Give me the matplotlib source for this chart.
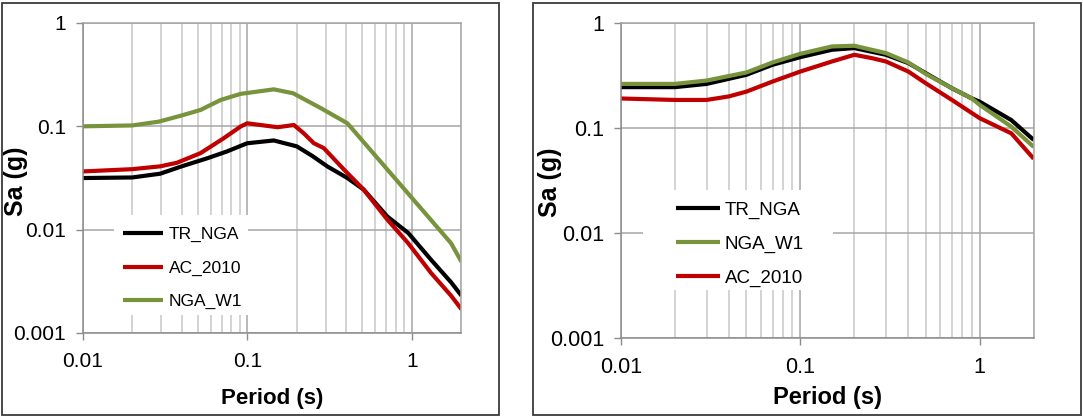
import matplotlib
matplotlib.use("Agg")
import matplotlib.pyplot as plt
from matplotlib.patches import Rectangle
from matplotlib.ticker import LogLocator, FixedLocator, NullFormatter

plt.rcParams['font.family'] = ['Liberation Sans', 'DejaVu Sans']

# ---------------- data: left panel ----------------
left_T_tr = [0.01, 0.02, 0.0296, 0.040, 0.057, 0.075, 0.1, 0.145, 0.2, 0.249, 0.307, 0.406, 0.51, 0.71, 0.95, 1.31, 1.73, 2.0]
left_tr = [0.0316, 0.032, 0.0348, 0.041, 0.049, 0.057, 0.0686, 0.073, 0.064, 0.0516, 0.0409, 0.0316, 0.0244, 0.0134, 0.0093, 0.0051, 0.0031, 0.0023]

left_T_ac = [0.01, 0.02, 0.0296, 0.0374, 0.052, 0.072, 0.091, 0.1, 0.153, 0.192, 0.22, 0.254, 0.292, 0.388, 0.51, 0.71, 0.95, 1.31, 1.73, 2.0]
left_ac = [0.0366, 0.0385, 0.041, 0.0444, 0.055, 0.0767, 0.0994, 0.107, 0.098, 0.103, 0.0859, 0.0686, 0.0615, 0.038, 0.0244, 0.0125, 0.0074, 0.0038, 0.0023, 0.0017]

left_T_w1 = [0.01, 0.02, 0.029, 0.039, 0.052, 0.069, 0.091, 0.145, 0.19, 0.28, 0.406, 1.73, 2.0]
left_w1 = [0.1, 0.102, 0.111, 0.126, 0.144, 0.18, 0.206, 0.228, 0.209, 0.15, 0.107, 0.0074, 0.0049]

# ---------------- data: right panel ----------------
right_T = [0.01, 0.02, 0.03, 0.05, 0.07, 0.1, 0.15, 0.2, 0.3, 0.4, 0.5, 0.7, 0.9, 1.0, 1.5, 2.0]
right_tr = [0.245, 0.245, 0.263, 0.321, 0.40, 0.473, 0.556, 0.577, 0.498, 0.415, 0.333, 0.239, 0.192, 0.178, 0.119, 0.077]
right_w1 = [0.263, 0.263, 0.283, 0.338, 0.421, 0.509, 0.598, 0.607, 0.517, 0.421, 0.328, 0.239, 0.192, 0.166, 0.103, 0.066]

right_T_ac = [0.01, 0.02, 0.03, 0.04, 0.05, 0.07, 0.1, 0.15, 0.2, 0.25, 0.3, 0.4, 0.5, 0.7, 1.0, 1.5, 2.0]
right_ac = [0.191, 0.185, 0.185, 0.20, 0.222, 0.277, 0.345, 0.43, 0.498, 0.463, 0.43, 0.345, 0.267, 0.185, 0.124, 0.089, 0.051]

x_ticks = [0.01, 0.1, 1]
x_tick_labels = ['0.01', '0.1', '1']
y_ticks = [0.001, 0.01, 0.1, 1]
y_tick_labels = ['0.001', '0.01', '0.1', '1']

C_BLACK = '#000000'
C_RED = '#C00000'
C_GREEN = '#77933C'

W, H = 1083, 417
fig = plt.figure(figsize=(W / 100, H / 100), dpi=100)


def fx(px):
    return px / W


def fy(py):
    return 1 - py / H


# panel borders
for (x0, y0, x1, y1) in [(2, 3, 499, 415), (533, 3, 1081, 415)]:
    fig.patches.append(Rectangle((fx(x0), fy(y1)), fx(x1 - x0), (y1 - y0) / H,
                                 transform=fig.transFigure, fill=False,
                                 edgecolor='#3a3a3a', lw=1.3))


def style_axes(ax, tick_fs, label_fs_x, label_fs_y):
    ax.set_xscale('log')
    ax.set_yscale('log')
    ax.set_xlim(0.01, 2)
    ax.set_ylim(0.001, 1)
    ax.xaxis.set_major_locator(FixedLocator(x_ticks))
    ax.set_xticklabels(x_tick_labels)
    ax.yaxis.set_major_locator(FixedLocator(y_ticks))
    ax.set_yticklabels(y_tick_labels)
    ax.xaxis.set_minor_locator(LogLocator(base=10, subs=range(2, 10), numticks=20))
    ax.xaxis.set_minor_formatter(NullFormatter())
    ax.yaxis.set_minor_locator(FixedLocator([]))
    ax.grid(True, which='major', color='#a6a6a6', lw=1.1)
    ax.grid(True, which='minor', axis='x', color='#d0d0d0', lw=1.3)
    ax.tick_params(axis='both', which='major', direction='out', length=5,
                   width=1.0, color='#8c8c8c', labelsize=tick_fs)
    ax.tick_params(axis='x', which='major', pad=9)
    ax.tick_params(axis='y', which='major', pad=7)
    ax.tick_params(axis='x', which='minor', length=0)
    for s in ax.spines.values():
        s.set_color('#a6a6a6')
        s.set_linewidth(1.1)
    ax.spines['left'].set_color('#8c8c8c')
    ax.spines['bottom'].set_color('#8c8c8c')
    ax.set_xlabel('Period (s)', fontsize=label_fs_x, fontweight='bold', va='center')
    ax.set_ylabel('Sa (g)', fontsize=label_fs_y, fontweight='bold', va='center', ha='center')


lw = 3.0

# ---------------- left panel ----------------
axL = fig.add_axes([fx(82.6), fy(333), fx(461.4 - 82.6), (333 - 23) / H])
style_axes(axL, 15, 16, 18)
axL.add_patch(Rectangle((0.082, 0.058), 0.437 - 0.082, 0.381 - 0.058,
                        transform=axL.transAxes, facecolor='white',
                        edgecolor='none', zorder=1.6))
axL.plot(left_T_tr, left_tr, color=C_BLACK, lw=lw, label='TR_NGA', solid_capstyle='butt')
axL.plot(left_T_ac, left_ac, color=C_RED, lw=lw, label='AC_2010', solid_capstyle='butt')
axL.plot(left_T_w1, left_w1, color=C_GREEN, lw=lw, label='NGA_W1', solid_capstyle='butt')
axL.xaxis.set_label_coords(0.5, -0.212)
axL.yaxis.set_label_coords(-0.175, 0.49)
legL = axL.legend(loc='upper left', bbox_to_anchor=(0.1067, 0.342), borderaxespad=0,
                  frameon=False, fontsize=12.5, handlelength=2.33, handletextpad=0.3,
                  labelspacing=1.05, borderpad=0)

# ---------------- right panel ----------------
axR = fig.add_axes([fx(621), fy(338), fx(1033.7 - 621), (338 - 23) / H])
style_axes(axR, 15.5, 17, 18)
axR.add_patch(Rectangle((0.053, 0.152), 0.514 - 0.053, 0.470 - 0.152,
                        transform=axR.transAxes, facecolor='white',
                        edgecolor='none', zorder=1.6))
axR.plot(right_T, right_tr, color=C_BLACK, lw=lw, label='TR_NGA', solid_capstyle='butt')
axR.plot(right_T, right_w1, color=C_GREEN, lw=lw, label='NGA_W1', solid_capstyle='butt')
axR.plot(right_T_ac, right_ac, color=C_RED, lw=lw, label='AC_2010', solid_capstyle='butt')
axR.xaxis.set_label_coords(0.5, -0.19)
axR.yaxis.set_label_coords(-0.172, 0.495)
legR = axR.legend(loc='upper left', bbox_to_anchor=(0.134, 0.432), borderaxespad=0,
                  frameon=False, fontsize=13.5, handlelength=2.35, handletextpad=0.22,
                  labelspacing=0.88, borderpad=0)

fig.savefig('out.png', dpi=100)
